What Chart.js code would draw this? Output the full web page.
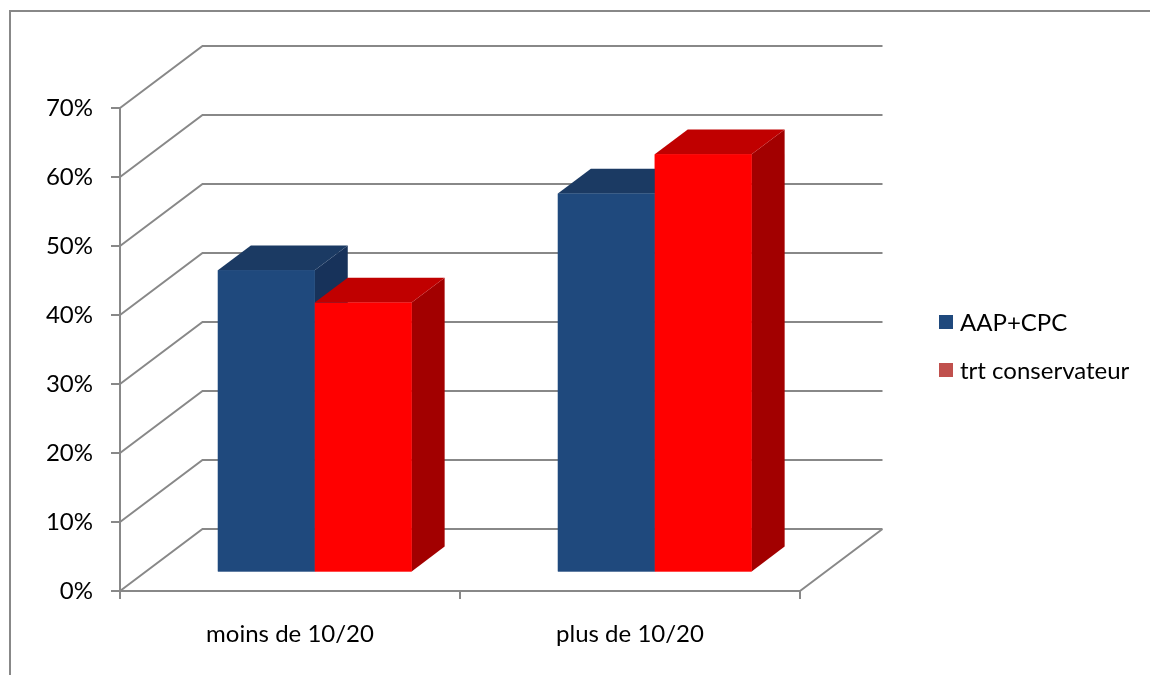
<!DOCTYPE html>
<html>
<head>
<meta charset="utf-8">
<title>moins de 10/20 - plus de 10/20</title>
<script src="https://cdn.jsdelivr.net/npm/chart.js@4/dist/chart.umd.min.js"></script>
<style>
    html, body { margin: 0; padding: 0; background: #fff; }
    canvas { display: block; }
</style>
</head>
<body>
<canvas id="chart" width="1150" height="675"></canvas>
<script>
const categories = ['moins de 10/20', 'plus de 10/20'];
const seriesNames = ['AAP+CPC', 'trt conservateur'];
const aapCpc = [0.438, 0.549];
const trtConservateur = [0.391, 0.606];
const yTicks = [0, 0.1, 0.2, 0.3, 0.4, 0.5, 0.6, 0.7];

// face colours per series: front, top, side
const faces = [
    { front: '#1f497d', top: '#1b3a63', side: '#17325a' },
    { front: '#ff0000', top: '#c00000', side: '#a20000' },
];
const legendColors = ['#1f497d', '#c0504d'];

const FONT = 'Lato, "Open Sans", sans-serif';
const FONT_SIZE = 24;
const GRID = '#888888';
// depth of the floor / back wall, and where the bars sit inside it
const DEPTH = { dx: 82.5, dy: -62 };
const BAR_FRONT = 0.3;
const BAR_BACK = 0.7;

const box3d = {
    id: 'box3d',
    beforeDraw(chart) {
        const ctx = chart.ctx;
        ctx.save();
        ctx.strokeStyle = GRID;
        ctx.lineWidth = 2;
        ctx.beginPath();
        ctx.moveTo(10, chart.height);
        ctx.lineTo(10, 11);
        ctx.lineTo(chart.width, 11);
        ctx.stroke();
        ctx.restore();
    },
    beforeDatasetsDraw(chart) {
        const { ctx, chartArea: a, scales: { y } } = chart;
        ctx.save();
        ctx.strokeStyle = GRID;
        ctx.lineWidth = 2;
        ctx.beginPath();
        y.ticks.forEach(t => {
            const py = y.getPixelForValue(t.value);
            ctx.moveTo(a.left, py);
            ctx.lineTo(a.left + DEPTH.dx, py + DEPTH.dy);
            ctx.lineTo(a.right + DEPTH.dx, py + DEPTH.dy);
        });
        ctx.moveTo(a.right, a.bottom);
        ctx.lineTo(a.right + DEPTH.dx, a.bottom + DEPTH.dy);
        ctx.stroke();
        ctx.restore();

        // library bars sit on the middle of the floor
        ctx.save();
        ctx.translate(DEPTH.dx * BAR_FRONT, DEPTH.dy * BAR_FRONT);
    },
    afterDatasetsDraw(chart) {
        const ctx = chart.ctx;
        ctx.restore();

        const ox = DEPTH.dx * BAR_FRONT, oy = DEPTH.dy * BAR_FRONT;
        const bx = DEPTH.dx * (BAR_BACK - BAR_FRONT), by = DEPTH.dy * (BAR_BACK - BAR_FRONT);
        const metas = chart.data.datasets.map((d, i) => chart.getDatasetMeta(i));

        // paint boxes left to right so later fronts cover earlier sides
        categories.forEach((c, idx) => {
            metas.forEach((meta, di) => {
                const bar = meta.data[idx];
                const { x, y, base, width } = bar.getProps(['x', 'y', 'base', 'width'], true);
                const l = x - width / 2 + ox, r = x + width / 2 + ox;
                const t = y + oy, b = base + oy;
                const f = faces[di];

                ctx.fillStyle = f.side;
                ctx.beginPath();
                ctx.moveTo(r, t);
                ctx.lineTo(r + bx, t + by);
                ctx.lineTo(r + bx, b + by);
                ctx.lineTo(r, b);
                ctx.closePath();
                ctx.fill();

                ctx.fillStyle = f.top;
                ctx.beginPath();
                ctx.moveTo(l, t);
                ctx.lineTo(l + bx, t + by);
                ctx.lineTo(r + bx, t + by);
                ctx.lineTo(r, t);
                ctx.closePath();
                ctx.fill();

                ctx.fillStyle = f.front;
                ctx.fillRect(l, t, r - l, b - t);
            });
        });
    },
    afterDraw(chart) {
        const ctx = chart.ctx;
        ctx.save();
        ctx.font = FONT_SIZE + 'px ' + FONT;
        ctx.textBaseline = 'middle';
        chart.data.datasets.forEach((d, i) => {
            const cy = 322 + i * 48;
            ctx.fillStyle = legendColors[i];
            ctx.fillRect(939, cy - 7, 14, 14);
            ctx.fillStyle = '#000';
            ctx.fillText(d.label, 960, cy + 1);
        });
        ctx.restore();
    }
};

new Chart(document.getElementById('chart'), {
    type: 'bar',
    data: {
        labels: categories,
        datasets: [
            { label: seriesNames[0], data: aapCpc, backgroundColor: faces[0].front, borderWidth: 0 },
            { label: seriesNames[1], data: trtConservateur, backgroundColor: faces[1].front, borderWidth: 0 },
        ],
    },
    options: {
        responsive: false,
        animation: false,
        layout: { padding: { top: 108, right: 350, bottom: 0, left: 0 } },
        datasets: { bar: { categoryPercentage: 0.57, barPercentage: 1.0 } },
        plugins: { legend: { display: false }, tooltip: { enabled: false } },
        scales: {
            x: {
                afterFit(scale) { scale.height = 84; },
                grid: { drawOnChartArea: false, tickLength: 8, color: GRID, lineWidth: 2 },
                border: { color: GRID, width: 2 },
                ticks: { font: { family: FONT, size: FONT_SIZE }, color: '#000', padding: 21 },
            },
            y: {
                min: 0,
                max: 0.7,
                afterFit(scale) { scale.width = 120; },
                afterBuildTicks(scale) { scale.ticks = yTicks.map(v => ({ value: v })); },
                grid: { drawOnChartArea: false, tickLength: 9, color: GRID, lineWidth: 2 },
                border: { color: GRID, width: 2 },
                ticks: {
                    font: { family: FONT, size: FONT_SIZE },
                    color: '#000',
                    padding: 18,
                    callback: v => Math.round(v * 100) + '%',
                },
            },
        },
    },
    plugins: [box3d],
});
</script>
</body>
</html>
